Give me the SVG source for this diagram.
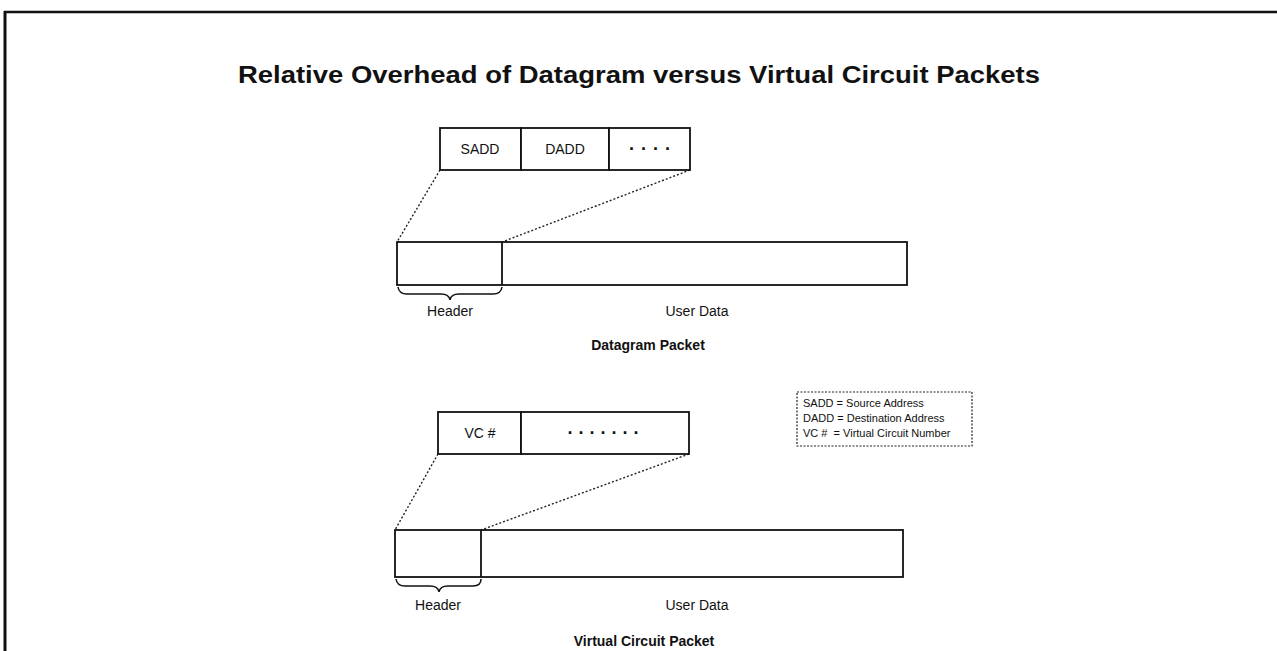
<svg xmlns="http://www.w3.org/2000/svg" width="1277" height="651" viewBox="0 0 1277 651">
<style>
.box{fill:#fff;stroke:#111;stroke-width:1.8}
.dot{fill:none;stroke:#222;stroke-width:1.4;stroke-dasharray:2 2}
.brace{fill:none;stroke:#111;stroke-width:1.5}
.lbl{font-family:"Liberation Sans",Arial,sans-serif;font-size:14px;fill:#111;text-anchor:middle}
.dots{font-family:"Liberation Sans",Arial,sans-serif;font-size:18px;font-weight:bold;fill:#111;text-anchor:middle}
.cap{font-family:"Liberation Sans",Arial,sans-serif;font-size:14px;font-weight:bold;fill:#111;text-anchor:middle}
.leg{font-family:"Liberation Sans",Arial,sans-serif;font-size:11px;fill:#111;white-space:pre}
.title{font-family:"Liberation Sans",Arial,sans-serif;font-size:24px;font-weight:bold;fill:#111;text-anchor:middle}
</style>
<rect width="1277" height="651" fill="#fff"/>
<g id="frame">
<line x1="4" y1="12" x2="1277" y2="12" stroke="#111" stroke-width="2.5"/>
<line x1="5" y1="11" x2="5" y2="651" stroke="#111" stroke-width="3"/>
</g>
<text id="title" class="title" x="639" y="83" textLength="802" lengthAdjust="spacingAndGlyphs">Relative Overhead of Datagram versus Virtual Circuit Packets</text>

<g id="connectors">
<line class="dot" x1="440" y1="170" x2="397" y2="242"/>
<line class="dot" x1="690" y1="170" x2="502" y2="242"/>
<line class="dot" x1="438" y1="454" x2="395" y2="530"/>
<line class="dot" x1="689" y1="454" x2="481" y2="530"/>
</g>

<g id="dg-header-fields">
<rect class="box" x="440" y="128" width="81" height="42"/>
<rect class="box" x="521" y="128" width="88" height="42"/>
<rect class="box" x="609" y="128" width="81" height="42"/>
<text class="lbl" x="480" y="154">SADD</text>
<text class="lbl" x="565" y="154">DADD</text>
<text class="dots" x="653" y="155" letter-spacing="6">····</text>
</g>

<g id="dg-packet">
<rect class="box" x="397" y="242" width="510" height="43"/>
<line x1="502" y1="242" x2="502" y2="285" stroke="#111" stroke-width="1.8"/>
<path class="brace" d="M398,287 Q399,294 407,294 L441,294 Q449,294 450,300 Q451,294 459,294 L493,294 Q501,294 502,287"/>
<text class="lbl" x="450" y="316">Header</text>
<text class="lbl" x="697" y="316">User Data</text>
<text class="cap" x="648" y="350">Datagram Packet</text>
</g>

<g id="legend">
<rect x="797" y="392" width="175" height="54" fill="#fff" stroke="#222" stroke-width="1.2" stroke-dasharray="2 1.5"/>
<text class="leg" x="803" y="407">SADD = Source Address</text>
<text class="leg" x="803" y="422">DADD = Destination Address</text>
<text class="leg" x="803" y="437">VC #  = Virtual Circuit Number</text>
</g>

<g id="vc-header-fields">
<rect class="box" x="438" y="412" width="83" height="42"/>
<rect class="box" x="521" y="412" width="168" height="42"/>
<text class="lbl" x="480" y="438">VC #</text>
<text class="dots" x="606" y="439" letter-spacing="5">·······</text>
</g>

<g id="vc-packet">
<rect class="box" x="395" y="530" width="508" height="47"/>
<line x1="481" y1="530" x2="481" y2="577" stroke="#111" stroke-width="1.8"/>
<path class="brace" d="M396,579 Q397,586 405,586 L430,586 Q438,586 439,592 Q440,586 448,586 L473,586 Q481,586 481,579"/>
<text class="lbl" x="438" y="610">Header</text>
<text class="lbl" x="697" y="610">User Data</text>
<text class="cap" x="644" y="646">Virtual Circuit Packet</text>
</g>
</svg>
